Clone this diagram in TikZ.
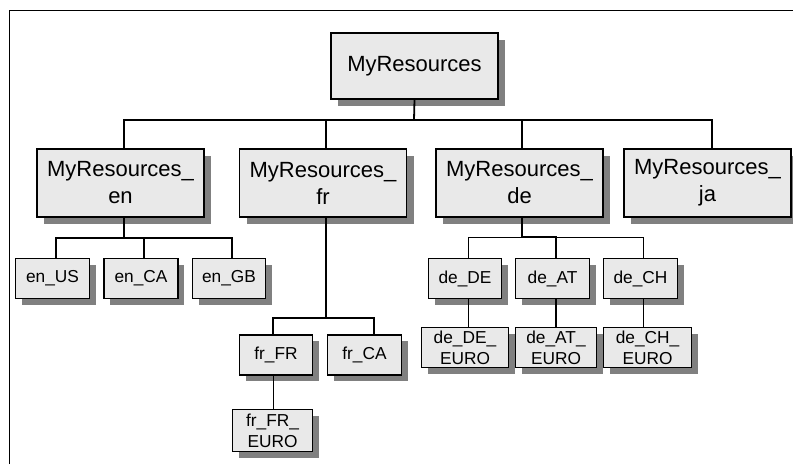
\documentclass[tikz,border=0pt]{standalone}
\usepackage{fontspec}
\setmainfont{Liberation Sans}
\usetikzlibrary{shadows}
\definecolor{boxfill}{HTML}{E9E9E9}
\definecolor{shadowgray}{HTML}{808080}
\newcommand{\bigfnt}{\fontsize{22}{27}\selectfont}
\newcommand{\smallfnt}{\fontsize{17.3}{21}\selectfont}
\tikzset{
  shbox/.style={draw, line width=1.6pt, fill=boxfill, inner sep=0pt, align=center,
    drop shadow={shadow xshift=#1, shadow yshift=-#1, fill=shadowgray, opacity=1}},
  bigbox/.style={shbox=7pt, font=\bigfnt, minimum width=167pt, minimum height=68pt},
  smallbox/.style={shbox=6pt, font=\smallfnt, minimum height=40pt},
  conn/.style={line width=1.8pt},
  thinconn/.style={line width=1pt},
  frame/.style={line width=0.9pt}
}
\begin{document}
\begin{tikzpicture}[x=1pt,y=-1pt]
\useasboundingbox (0,0) rectangle (793,464);
% frame
\coordinate (fbl) at (9,464);
\coordinate (ftl) at (9,10);
\coordinate (ftr) at (793,10);
\draw[frame] (fbl) -- (ftl) -- (ftr);

% level 1
\node[bigbox, minimum width=167pt, minimum height=66pt] (root) at (414.5,66) {MyResources};
% level 2
\node[bigbox] (en) at (120.5,183) {MyResources\_\\en};
\node[bigbox] (fr) at (323,183) {MyResources\_\\fr};
\node[bigbox] (de) at (519.5,183) {MyResources\_\\de};
\node[bigbox] (ja) at (707.5,183) {MyResources\_\\ja};
% en children
\node[smallbox, minimum width=74pt] (enUS) at (52.5,278.5) {en\_US};
\node[smallbox, minimum width=74pt] (enCA) at (141,278.5) {en\_CA};
\node[smallbox, minimum width=73pt] (enGB) at (229,278.5) {en\_GB};
% fr children
\node[smallbox, minimum width=73pt] (frFR) at (276,355) {fr\_FR};
\node[smallbox, minimum width=74pt] (frCA) at (364.5,355) {fr\_CA};
\node[smallbox, minimum width=80pt, minimum height=42pt] (frFREU) at (272.5,430.5) {fr\_FR\_\\EURO};
% de children
\node[smallbox, minimum width=73pt] (deDE) at (465,278.5) {de\_DE};
\node[smallbox, minimum width=74pt] (deAT) at (552.5,278.5) {de\_AT};
\node[smallbox, minimum width=74pt] (deCH) at (640.5,278.5) {de\_CH};
\node[smallbox, minimum width=87pt] (deDEEU) at (465,347.5) {de\_DE\_\\EURO};
\node[smallbox, minimum width=81pt] (deATEU) at (556,347.5) {de\_AT\_\\EURO};
\node[smallbox, minimum width=88pt] (deCHEU) at (647.5,347.5) {de\_CH\_\\EURO};

% connectors level 1 -> 2
\coordinate (b1) at (414,120);
\draw[conn] (root.south) -- (b1);
\draw[conn] ([xshift=3.5pt]en.north) |- (b1);
\draw[conn] ([xshift=3pt]fr.north) |- (b1);
\draw[conn] ([xshift=2.5pt]de.north) |- (b1);
\draw[conn] ([xshift=4.5pt]ja.north) |- (b1);

% en
\coordinate (b2) at (124,238);
\draw[conn] ([xshift=3.5pt]en.south) -- (b2);
\draw[conn] ([xshift=3.5pt]enUS.north) |- (b2);
\draw[conn] ([xshift=3pt]enCA.north) |- (b2);
\draw[conn] ([xshift=3pt]enGB.north) |- (b2);

% fr
\coordinate (b3) at (326,318);
\draw[conn] ([xshift=3pt]fr.south) -- (b3);
\draw[conn] ([xshift=-3pt]frFR.north) |- (b3);
\draw[conn] ([xshift=9.5pt]frCA.north) |- (b3);
\draw[thinconn] ([xshift=-3pt]frFR.south) -- ([xshift=0.5pt]frFREU.north);

% de
\coordinate (b4) at (522,237);
\draw[conn] ([xshift=2.5pt]de.south) -- (b4);
\draw[thinconn] ([xshift=3pt]deDE.north) |- (b4);
\draw[conn] ([xshift=3.5pt]deAT.north) |- (b4);
\draw[thinconn] ([xshift=2.5pt]deCH.north) |- (b4);
\draw[thinconn] ([xshift=3pt]deDE.south) -- ([xshift=3pt]deDEEU.north);
\draw[conn] ([xshift=3.5pt]deAT.south) -- (deATEU.north);
\draw[thinconn] ([xshift=2.5pt]deCH.south) -- ([xshift=-4.5pt]deCHEU.north);
\end{tikzpicture}
\end{document}
